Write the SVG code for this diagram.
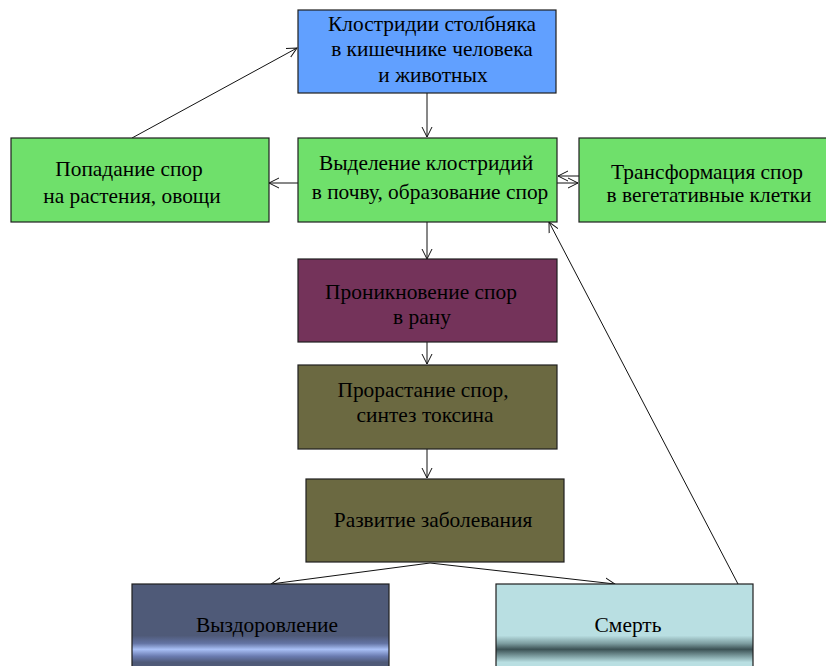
<svg xmlns="http://www.w3.org/2000/svg" width="826" height="666" viewBox="0 0 826 666">
<style>
.box{stroke:#1e1e1e;stroke-width:1.2}
.t{font-family:"Liberation Serif","Times New Roman",serif;font-size:21.4px;fill:#000;text-anchor:middle}
.c{stroke:#111;stroke-width:1;fill:none;marker-end:url(#ah)}
</style>
<defs>
<marker id="ah" markerUnits="userSpaceOnUse" markerWidth="14" markerHeight="14" refX="10" refY="6" orient="auto">
<path d="M0,1 L10,6 L0,11" fill="none" stroke="#111" stroke-width="1"/>
</marker>
<linearGradient id="gL" gradientUnits="userSpaceOnUse" x1="0" y1="584" x2="0" y2="670">
<stop offset="0" stop-color="#4f5a78"/>
<stop offset="0.6" stop-color="#4f5a78"/>
<stop offset="0.69" stop-color="#6373a3"/>
<stop offset="0.76" stop-color="#a9c0f6"/>
<stop offset="0.84" stop-color="#6a7bb0"/>
<stop offset="0.91" stop-color="#4f5a78"/>
<stop offset="1" stop-color="#4f5a78"/>
</linearGradient>
<linearGradient id="gR" gradientUnits="userSpaceOnUse" x1="0" y1="584" x2="0" y2="670">
<stop offset="0" stop-color="#b9dfe2"/>
<stop offset="0.6" stop-color="#b9dfe2"/>
<stop offset="0.69" stop-color="#7e9ea1"/>
<stop offset="0.76" stop-color="#3c5255"/>
<stop offset="0.84" stop-color="#7e9ea1"/>
<stop offset="0.91" stop-color="#b9dfe2"/>
<stop offset="1" stop-color="#b9dfe2"/>
</linearGradient>
</defs>
<g id="connectors">
<line class="c" x1="427" y1="93" x2="427" y2="137"/>
<line class="c" x1="427" y1="222" x2="427" y2="259"/>
<line class="c" x1="427" y1="342" x2="427" y2="364"/>
<line class="c" x1="427" y1="449" x2="427" y2="478"/>
<line class="c" x1="430" y1="563" x2="271" y2="584"/>
<line class="c" x1="430" y1="563" x2="615" y2="584"/>
<line class="c" x1="738" y1="584" x2="549" y2="222"/>
<line class="c" x1="132" y1="138" x2="297" y2="48"/>
<line class="c" x1="298" y1="183" x2="269" y2="183"/>
<line class="c" x1="579" y1="176" x2="558" y2="176"/>
<line class="c" x1="557" y1="183" x2="578" y2="183"/>
</g>
<g id="n1">
<rect class="box" x="298" y="10" width="258" height="83" fill="#61a0ff"/>
<text class="t" x="432" y="31">Клостридии столбняка</text>
<text class="t" x="432" y="56">в кишечнике человека</text>
<text class="t" x="433" y="82">и животных</text>
</g>
<g id="n2">
<rect class="box" x="298" y="138" width="259" height="84" fill="#6fe06b"/>
<text class="t" x="426" y="170">Выделение клостридий</text>
<text class="t" x="430" y="199">в почву, образование спор</text>
</g>
<g id="n3">
<rect class="box" x="11" y="138" width="258" height="84" fill="#6fe06b"/>
<text class="t" x="129" y="176">Попадание спор</text>
<text class="t" x="132" y="203">на растения, овощи</text>
</g>
<g id="n4">
<rect class="box" x="579" y="138" width="250" height="84" fill="#6fe06b"/>
<text class="t" x="707" y="179">Трансформация спор</text>
<text class="t" x="709" y="202">в вегетативные клетки</text>
</g>
<g id="n5">
<rect class="box" x="298" y="259" width="259" height="83" fill="#74335a"/>
<text class="t" x="421" y="299">Проникновение спор</text>
<text class="t" x="422" y="324">в рану</text>
</g>
<g id="n6">
<rect class="box" x="298" y="365" width="259" height="84" fill="#6b6941"/>
<text class="t" x="423" y="397">Прорастание спор,</text>
<text class="t" x="425" y="422">синтез токсина</text>
</g>
<g id="n7">
<rect class="box" x="306" y="479" width="258" height="83" fill="#6b6941"/>
<text class="t" x="433" y="527">Развитие заболевания</text>
</g>
<g id="n8">
<rect class="box" x="132" y="584" width="257" height="90" fill="url(#gL)"/>
<text class="t" x="267" y="632">Выздоровление</text>
</g>
<g id="n9">
<rect class="box" x="496" y="584" width="257" height="90" fill="url(#gR)"/>
<text class="t" x="628" y="632">Смерть</text>
</g>
</svg>
